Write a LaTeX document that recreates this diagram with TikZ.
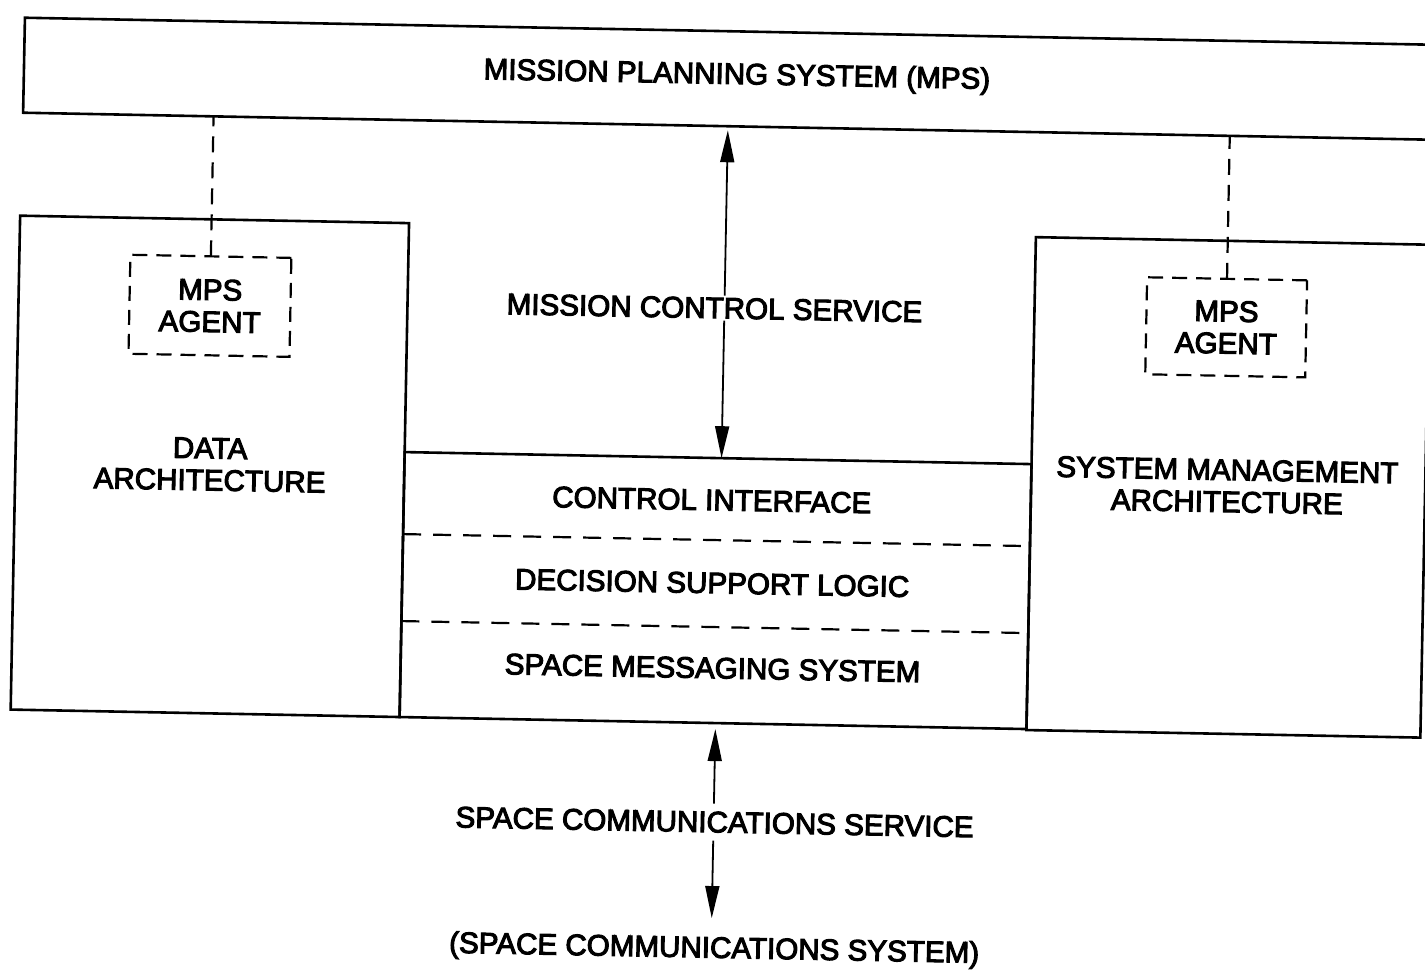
\documentclass[tikz,border=0pt]{standalone}
\usepackage{fontspec}
\setmainfont{Liberation Sans}
\newfontfamily\diagfont{Liberation Sans}[FakeBold=3.5]
\usetikzlibrary{arrows.meta}
\tikzset{
  box/.style={draw, line width=1.3pt, inner sep=0pt, outer sep=0pt},
  agentbox/.style={draw, line width=1.1pt, dash pattern=on 7.5pt off 4.5pt, inner sep=0pt, outer sep=0pt, align=center},
  lbl/.style={inner sep=2pt, align=center, font=\diagfont\fontsize{14.8}{16}\selectfont},
  layerline/.style={line width=1.1pt, dash pattern=on 9pt off 6pt},
  agentlink/.style={line width=1.1pt, dash pattern=on 8pt off 5pt},
  biarrow/.style={line width=0.9pt, {Triangle[length=16pt,width=7pt]}-{Triangle[length=16pt,width=7pt]}}
}
\begin{document}
\begin{tikzpicture}[x=0.5pt,y=0.5pt]
\useasboundingbox (0,0) rectangle (1425,978);
\clip (0,0) rectangle (1425,978);
\fill[white] (0,0) rectangle (1425,978);
\begin{scope}[rotate around={-1.1:(712,489)}, transform shape]
  % top system box
  \node[box, minimum width=722pt, minimum height=47.5pt] (mps) at (738,899.5) {};
  \node[lbl] (mpslbl) at (729,902) {MISSION PLANNING SYSTEM (MPS)};
  % side architectures
  \node[box, minimum width=194.5pt, minimum height=247pt] (data) at (209.5,502) {};
  \node[lbl] (datalbl) at (209.5,504) {DATA\\ARCHITECTURE};
  \node[box, minimum width=197pt, minimum height=246.5pt] (sma) at (1228,500.5) {};
  \node[lbl] (smalbl) at (1227,502) {SYSTEM MANAGEMENT\\ARCHITECTURE};
  % middle layered box
  \node[box, minimum width=313.5pt, minimum height=132.5pt] (mid) at (717.5,387.5) {};
  \coordinate (d1) at (717,438);
  \coordinate (d2) at (717,351);
  \draw[layerline] (mid.west |- d1) -- (mid.east |- d1);
  \draw[layerline] (mid.west |- d2) -- (mid.east |- d2);
  \node[lbl] (ci) at (712,478) {CONTROL INTERFACE};
  \node[lbl] (dsl) at (714,395) {DECISION SUPPORT LOGIC};
  \node[lbl] (sms) at (716,310) {SPACE MESSAGING SYSTEM};
  % MPS agents
  \node[agentbox, minimum width=80.5pt, minimum height=49.5pt, font=\diagfont\fontsize{14.8}{16}\selectfont] (agl) at (206.5,662.5) {MPS\\AGENT};
  \node[agentbox, minimum width=80pt, minimum height=48.5pt, font=\diagfont\fontsize{14.8}{16}\selectfont] (agr) at (1223,660.5) {MPS\\AGENT};
  \draw[agentlink] (agl.north) -- (agl.north |- mps.south);
  \draw[agentlink] (agr.north) -- (agr.north |- mps.south);
  % mission control service
  \coordinate (mc) at (721,600);
  \draw[biarrow, shorten <=2pt] (mc |- mps.south) -- (mc |- mid.north);
  \node[lbl, fill=white, inner sep=1pt] (mcs) at (711,670) {MISSION CONTROL SERVICE};
  % space communications
  \coordinate (scend) at (720,60);
  \draw[biarrow, shorten <=3pt] (scend |- mid.south) -- (scend);
  \node[lbl, fill=white, inner sep=4pt] (scs) at (721,156) {SPACE COMMUNICATIONS SERVICE};
  \node[lbl] (scsys) at (723,28) {(SPACE COMMUNICATIONS SYSTEM)};
\end{scope}
\end{tikzpicture}
\end{document}
